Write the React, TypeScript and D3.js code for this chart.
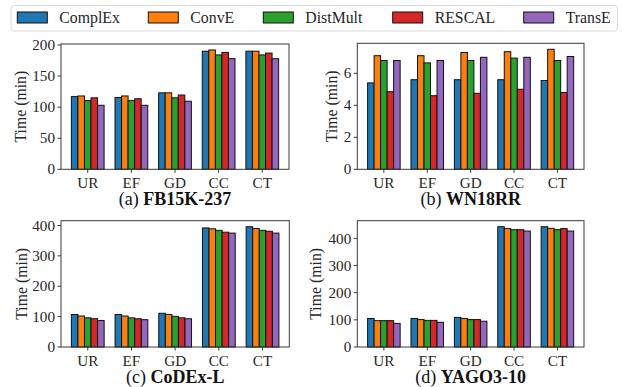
import React from "react";
import * as d3 from "d3";

const categories = ["UR", "EF", "GD", "CC", "CT"];
const models = ["ComplEx", "ConvE", "DistMult", "RESCAL", "TransE"];
const modelColors = ["#1f77b4", "#ff7f0e", "#2ca02c", "#d62728", "#9467bd"];

// Training time (min) per model, one row per model, one column per category
const fb15kTimes = [
  [117, 115.5, 123, 190, 190],
  [118, 118, 123, 192, 190],
  [110.5, 110.5, 115, 184, 184],
  [115, 113.5, 119.5, 188, 187],
  [103, 103, 109.5, 178, 178],
];
const wn18rrTimes = [
  [5.4, 5.6, 5.6, 5.6, 5.55],
  [7.1, 7.1, 7.3, 7.35, 7.5],
  [6.8, 6.65, 6.8, 6.95, 6.8],
  [4.85, 4.6, 4.75, 5.0, 4.8],
  [6.8, 6.8, 7.0, 7.0, 7.05],
];
const codexTimes = [
  [107, 107, 111, 392, 396],
  [102, 102, 107, 389, 390],
  [96, 96, 101, 384, 384],
  [93, 93, 96, 378, 381],
  [87, 90, 93, 375, 375],
];
const yagoTimes = [
  [105, 105, 109, 443, 443],
  [97, 101, 105, 436, 437],
  [97, 98, 101, 432, 432],
  [97, 98, 101, 432, 436],
  [87, 91, 95, 427, 427],
];

const fbTicks = [0, 50, 100, 150, 200];
const wnTicks = [0, 2, 4, 6];
const codexTicks = [0, 100, 200, 300, 400];
const yagoTicks = [0, 100, 200, 300, 400];

const FONT = "'Liberation Serif', 'Times New Roman', serif";
const TEXT = "#262626";
const SPINE = "#3a3a3a";
const BAR_W = 0.15;
const FS = 15.2;

type PanelProps = {
  x0: number;
  x1: number;
  y0: number;
  y1: number;
  data: number[][];
  ticks: number[];
  letter: string;
  name: string;
  labelX: number;
};

function Panel({ x0, x1, y0, y1, data, ticks, letter, name, labelX }: PanelProps) {
  const n = categories.length;
  const lo = -2.5 * BAR_W;
  const hi = n - 1 + 2.5 * BAR_W;
  const pad = (hi - lo) * 0.05;
  const x = d3.scaleLinear().domain([lo - pad, hi + pad]).range([x0, x1]);
  const maxV = d3.max(data.flat()) as number;
  const y = d3.scaleLinear().domain([0, maxV * 1.05]).range([y1, y0]);
  const cx = (x0 + x1) / 2;

  return (
    <g>
      {data.map((series, m) =>
        series.map((v, c) => {
          const left = x(c + (m - 2) * BAR_W - BAR_W / 2);
          const right = x(c + (m - 2) * BAR_W + BAR_W / 2);
          return (
            <rect
              key={`${m}-${c}`}
              x={left}
              y={y(v)}
              width={right - left}
              height={y(0) - y(v)}
              fill={modelColors[m]}
              stroke="#111"
              strokeWidth={1}
            />
          );
        })
      )}
      <rect x={x0} y={y0} width={x1 - x0} height={y1 - y0} fill="none" stroke={SPINE} strokeWidth={1} />
      {ticks.map((t) => (
        <g key={t}>
          <line x1={x0 - 3.5} x2={x0} y1={y(t)} y2={y(t)} stroke={SPINE} strokeWidth={1} />
          <text
            x={x0 - 6}
            y={y(t)}
            dy="0.34em"
            textAnchor="end"
            fontFamily={FONT}
            fontSize={FS}
            fill={TEXT}
          >
            {t}
          </text>
        </g>
      ))}
      {categories.map((cat, i) => (
        <g key={cat}>
          <line x1={x(i)} x2={x(i)} y1={y1} y2={y1 + 3.5} stroke={SPINE} strokeWidth={1} />
          <text
            x={x(i)}
            y={y1 + 18.5}
            textAnchor="middle"
            fontFamily={FONT}
            fontSize={FS}
            fill={TEXT}
          >
            {cat}
          </text>
        </g>
      ))}
      <text
        transform={`translate(${labelX},${(y0 + y1) / 2}) rotate(-90)`}
        dy="0.34em"
        textAnchor="middle"
        fontFamily={FONT}
        fontSize={FS + 0.6}
        fill={TEXT}
      >
        Time (min)
      </text>
      <text x={cx} y={y1 + 36} textAnchor="middle" fontFamily={FONT} fontSize={18} fill="#111">
        <tspan>({letter}) </tspan>
        <tspan fontWeight="bold">{name}</tspan>
      </text>
    </g>
  );
}

function Legend() {
  const patchX = [17.3, 148.3, 263.3, 392.7, 523.7];
  return (
    <g>
      <rect x={11} y={5.5} width={606.5} height={25.5} rx={3} fill="#fff" stroke="#d9d9d9" strokeWidth={1} />
      {models.map((m, i) => (
        <g key={m}>
          <rect x={patchX[i]} y={12} width={30} height={11} fill={modelColors[i]} stroke="#111" strokeWidth={1} />
          <text x={patchX[i] + 42} y={22.5} fontFamily={FONT} fontSize={FS + 0.6} fill={TEXT}>
            {m}
          </text>
        </g>
      ))}
    </g>
  );
}

export default function App() {
  return (
    <svg width={622} height={387} style={{ position: "absolute", left: 0, top: 0, background: "#fff" }}>
      <rect width={622} height={387} fill="#fff" />
      <Legend />
      <Panel x0={61} x1={289} y0={44} y1={169.3} data={fb15kTimes} ticks={fbTicks} letter="a" name="FB15K-237" labelX={21} />
      <Panel x0={357.3} x1={584} y0={43.3} y1={169.3} data={wn18rrTimes} ticks={wnTicks} letter="b" name="WN18RR" labelX={331.5} />
      <Panel x0={61} x1={289.3} y0={220.7} y1={347} data={codexTimes} ticks={codexTicks} letter="c" name="CoDEx-L" labelX={21.5} />
      <Panel x0={357.3} x1={584} y0={220.7} y1={347} data={yagoTimes} ticks={yagoTicks} letter="d" name="YAGO3-10" labelX={316} />
    </svg>
  );
}
